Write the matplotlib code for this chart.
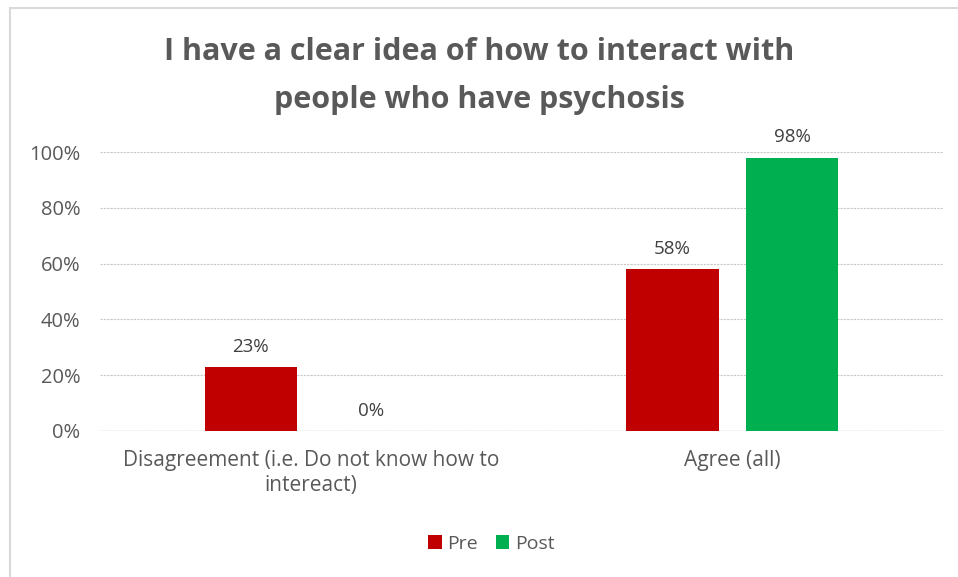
import matplotlib.pyplot as plt
import numpy as np
from matplotlib.patches import Rectangle

# data
categories = ["Disagreement (i.e. Do not know how to\nintereact)", "Agree (all)"]
series_names = ["Pre", "Post"]
pre_vals = [0.23, 0.58]
post_vals = [0.00, 0.98]
y_ticks = [0, 0.2, 0.4, 0.6, 0.8, 1.0]
y_labels = ["0%", "20%", "40%", "60%", "80%", "100%"]

plt.rcParams['font.family'] = ['Open Sans', 'DejaVu Sans']
grey = '#595959'

fig = plt.figure(figsize=(9.58, 5.77), dpi=100)
# chart border (top/left visible, right/bottom run off the image)
fig.patches.append(Rectangle((10/958, -0.02), 1.0, 1 - 8/577 + 0.02,
                             transform=fig.transFigure, fill=False,
                             edgecolor='#d9d9d9', lw=1.5))

ax = fig.add_axes([100/958, 1 - 431/577, 843/958, (431 - 152)/577])
x = np.arange(len(categories))
w = 0.22
off = 0.142
b1 = ax.bar(x - off, pre_vals, w, color='#C00000', label=series_names[0], zorder=3)
b2 = ax.bar(x + off, post_vals, w, color='#00B050', label=series_names[1], zorder=3)

for bars, vals in ((b1, pre_vals), (b2, post_vals)):
    for b, v in zip(bars, vals):
        ax.text(b.get_x() + b.get_width()/2, v + 0.04, f"{v*100:.0f}%",
                ha='center', va='bottom', fontsize=13.5, color='#404040', clip_on=False)

ax.set_xlim(-0.5, 1.5)
ax.set_ylim(0, 1.0)
ax.set_yticks(y_ticks)
ax.set_yticklabels(y_labels, fontsize=14.5, color=grey)
ax.set_xticks(x)
ax.set_xticklabels(categories, fontsize=15, color=grey, linespacing=1.2)
ax.tick_params(length=0)
ax.tick_params(axis='y', pad=14)
ax.tick_params(axis='x', pad=14)
for s in ax.spines.values():
    s.set_visible(False)
ax.grid(axis='y', color='#c8c8c8', lw=0.8, ls=(0, (2, 1)), zorder=0)
ax.axhline(0, color='#d0d0d0', lw=1, zorder=1)

fig.text(0.5, 1 - 52/577, "I have a clear idea of how to interact with",
         ha='center', va='center', fontsize=22, fontweight='bold', color=grey)
fig.text(0.5, 1 - 100/577, "people who have psychosis",
         ha='center', va='center', fontsize=22, fontweight='bold', color=grey)

fig.legend(handles=[b1, b2], loc='center', bbox_to_anchor=(0.513, 1 - 544/577),
           ncol=2, frameon=False, fontsize=14, handlelength=0.7, handleheight=0.7,
           handletextpad=0.3, columnspacing=0.9, labelcolor=grey)

fig.savefig("out.png", dpi=100)
